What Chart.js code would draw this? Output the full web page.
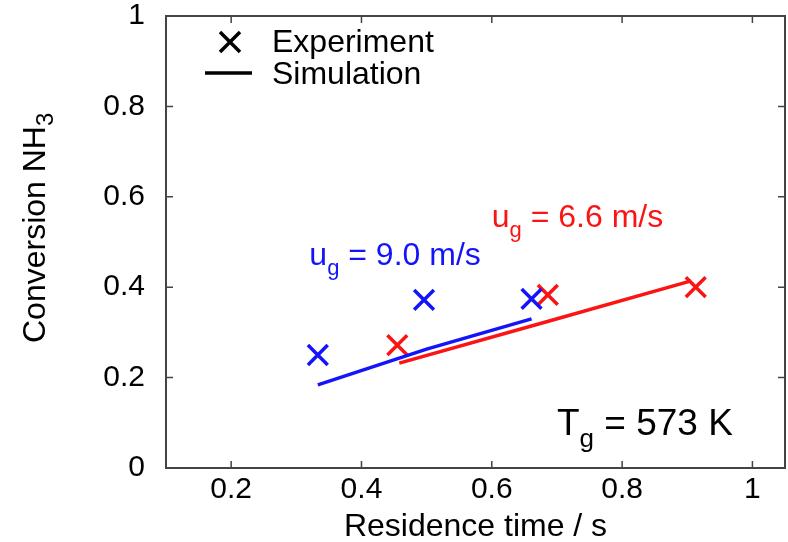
<!DOCTYPE html>
<html>
<head>
<meta charset="utf-8">
<script src="https://cdn.jsdelivr.net/npm/chart.js@4.4.1/dist/chart.umd.min.js"></script>
<style>
  body { margin: 0; background: #fff; }
  #wrap { width: 788px; height: 542px; }
</style>
</head>
<body>
<div id="wrap"><canvas id="chart" width="788" height="542"></canvas></div>
<script>
// data
var xTicks = [0.2, 0.4, 0.6, 0.8, 1];
var yTicks = [0, 0.2, 0.4, 0.6, 0.8, 1];

// u_g = 9.0 m/s (blue)
var blueExpX = [0.333, 0.496, 0.661];
var blueExpY = [0.250, 0.372, 0.374];
var blueSimX = [0.333, 0.500, 0.661];
var blueSimY = [0.184, 0.263, 0.330];

// u_g = 6.6 m/s (red)
var redExpX = [0.455, 0.686, 0.913];
var redExpY = [0.272, 0.383, 0.400];
var redSimX = [0.458, 0.680, 0.906];
var redSimY = [0.232, 0.322, 0.414];

var BLUE = 'rgb(20,20,250)';
var RED = 'rgb(250,20,20)';
var FONT = '"Liberation Sans", Arial, Helvetica, sans-serif';

function pts(xs, ys) {
    return xs.map(function (x, i) { return { x: x, y: ys[i] }; });
}

// text with a subscript part, e.g. u + g + " = 9.0 m/s"
function subText(ctx, x, y, main, sub, rest, size, subSize, drop) {
    ctx.font = size + 'px ' + FONT;
    ctx.fillText(main, x, y);
    x += ctx.measureText(main).width;
    ctx.font = subSize + 'px ' + FONT;
    ctx.fillText(sub, x, y + drop);
    x += ctx.measureText(sub).width;
    ctx.font = size + 'px ' + FONT;
    ctx.fillText(rest, x, y);
}

function noPad(s) {
    s.paddingLeft = 0;
    s.paddingRight = 0;
    s.paddingTop = 0;
    s.paddingBottom = 0;
}

var framePlugin = {
    id: 'frame',
    afterDraw: function (chart) {
        var ctx = chart.ctx;
        var a = chart.chartArea;
        var xs = chart.scales.x, ys = chart.scales.y;
        ctx.save();
        ctx.strokeStyle = '#444';
        ctx.lineWidth = 2;
        ctx.strokeRect(a.left, a.top, a.right - a.left, a.bottom - a.top);
        ctx.lineWidth = 1.5;
        ctx.beginPath();
        xTicks.forEach(function (v) {
            var px = xs.getPixelForValue(v);
            ctx.moveTo(px, a.bottom); ctx.lineTo(px, a.bottom - 7);
            ctx.moveTo(px, a.top); ctx.lineTo(px, a.top + 7);
        });
        yTicks.forEach(function (v) {
            var py = ys.getPixelForValue(v);
            ctx.moveTo(a.left, py); ctx.lineTo(a.left + 7, py);
            ctx.moveTo(a.right, py); ctx.lineTo(a.right - 7, py);
        });
        ctx.stroke();

        // legend
        ctx.strokeStyle = '#000';
        ctx.lineWidth = 3.5;
        ctx.beginPath();
        ctx.moveTo(220, 32); ctx.lineTo(240, 52);
        ctx.moveTo(240, 32); ctx.lineTo(220, 52);
        ctx.moveTo(205, 73); ctx.lineTo(252, 73);
        ctx.stroke();
        ctx.fillStyle = '#000';
        ctx.textBaseline = 'alphabetic';
        ctx.textAlign = 'left';
        ctx.font = '32px ' + FONT;
        ctx.fillText('Experiment', 272, 52);
        ctx.fillText('Simulation', 272, 84);

        // labels inside the plot
        ctx.fillStyle = BLUE;
        subText(ctx, xs.getPixelForValue(0.32), ys.getPixelForValue(0.449), 'u', 'g', ' = 9.0 m/s', 32, 22, 10);
        ctx.fillStyle = RED;
        subText(ctx, xs.getPixelForValue(0.60), ys.getPixelForValue(0.533), 'u', 'g', ' = 6.6 m/s', 32, 22, 10);
        ctx.fillStyle = '#000';
        subText(ctx, xs.getPixelForValue(0.70), ys.getPixelForValue(0.073), 'T', 'g', ' = 573 K', 37, 26, 12);

        // y axis title, rotated
        ctx.translate(45, 343);
        ctx.rotate(-Math.PI / 2);
        subText(ctx, 0, 0, 'Conversion NH', '3', '', 32, 24, 8);
        ctx.restore();
    }
};

new Chart(document.getElementById('chart'), {
    type: 'scatter',
    data: {
        datasets: [
            {
                label: 'Simulation 9.0 m/s',
                data: pts(blueSimX, blueSimY),
                showLine: true,
                borderColor: BLUE,
                borderWidth: 3.5,
                pointRadius: 0,
                fill: false
            },
            {
                label: 'Simulation 6.6 m/s',
                data: pts(redSimX, redSimY),
                showLine: true,
                borderColor: RED,
                borderWidth: 3.5,
                pointRadius: 0,
                fill: false
            },
            {
                label: 'Experiment 9.0 m/s',
                data: pts(blueExpX, blueExpY),
                pointStyle: 'crossRot',
                pointRadius: 14,
                borderColor: BLUE,
                pointBorderWidth: 3.5
            },
            {
                label: 'Experiment 6.6 m/s',
                data: pts(redExpX, redExpY),
                pointStyle: 'crossRot',
                pointRadius: 14,
                borderColor: RED,
                pointBorderWidth: 3.5
            }
        ]
    },
    options: {
        responsive: false,
        animation: false,
        layout: { autoPadding: false, padding: { top: 16, right: 3, left: 0, bottom: 0 } },
        plugins: {
            legend: { display: false },
            tooltip: { enabled: false }
        },
        scales: {
            x: {
                type: 'linear',
                min: 0.1,
                max: 1.05,
                grid: { display: false, drawTicks: false, tickLength: 0 },
                border: { display: false },
                afterBuildTicks: function (s) {
                    s.ticks = xTicks.map(function (v) { return { value: v }; });
                },
                afterFit: function (s) { s.height = 74; noPad(s); },
                ticks: {
                    color: '#000',
                    padding: 4,
                    maxRotation: 0,
                    font: { family: FONT, size: 30 },
                    callback: function (v) { return String(+v.toFixed(2)); }
                },
                title: {
                    display: true,
                    text: 'Residence time / s',
                    color: '#000',
                    font: { family: FONT, size: 32 },
                    padding: { top: 0, bottom: -4 }
                }
            },
            y: {
                min: 0,
                max: 1,
                grid: { display: false, drawTicks: false, tickLength: 0 },
                border: { display: false },
                afterBuildTicks: function (s) {
                    s.ticks = yTicks.map(function (v) { return { value: v }; });
                },
                afterFit: function (s) { s.width = 166; noPad(s); },
                ticks: {
                    color: '#000',
                    padding: 21,
                    font: { family: FONT, size: 30 },
                    callback: function (v) { return String(+v.toFixed(2)); }
                }
            }
        }
    },
    plugins: [framePlugin]
});
</script>
</body>
</html>
